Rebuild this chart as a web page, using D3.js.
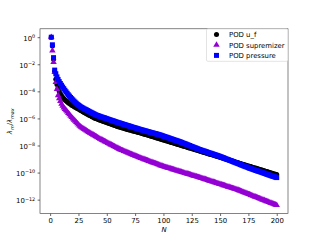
<!DOCTYPE html>
<meta charset="utf-8">
<style>
body { margin: 0; background: #fff; }
text { font-family: "DejaVu Sans", sans-serif; }
</style>
<body>
<script src="https://cdn.jsdelivr.net/npm/d3@7"></script>
<script>

// log10(lambda_m / lambda_max), one value per mode N = 1..200
var ufLog = [
  0, -0.65, -1.63, -2.51, -3.10, -3.50, -3.78, -4.00, -4.17, -4.31,
  -4.43, -4.53, -4.62, -4.70, -4.77, -4.84, -4.90, -4.96, -5.02, -5.07,
  -5.12, -5.17, -5.22, -5.26, -5.31, -5.36, -5.41, -5.46, -5.51, -5.56,
  -5.60, -5.65, -5.70, -5.74, -5.79, -5.83, -5.88, -5.92, -5.96, -6.00,
  -6.03, -6.07, -6.10, -6.13, -6.16, -6.19, -6.22, -6.25, -6.28, -6.31,
  -6.34, -6.37, -6.40, -6.43, -6.46, -6.49, -6.52, -6.55, -6.58, -6.61,
  -6.63, -6.66, -6.68, -6.71, -6.73, -6.76, -6.78, -6.81, -6.83, -6.85,
  -6.88, -6.90, -6.92, -6.95, -6.97, -6.99, -7.02, -7.04, -7.06, -7.08,
  -7.11, -7.13, -7.16, -7.18, -7.21, -7.23, -7.26, -7.28, -7.31, -7.34,
  -7.36, -7.39, -7.41, -7.44, -7.46, -7.49, -7.52, -7.54, -7.57, -7.59,
  -7.62, -7.64, -7.67, -7.69, -7.72, -7.75, -7.77, -7.80, -7.82, -7.85,
  -7.87, -7.90, -7.92, -7.95, -7.98, -8.00, -8.03, -8.05, -8.08, -8.10,
  -8.13, -8.16, -8.18, -8.21, -8.23, -8.26, -8.28, -8.31, -8.33, -8.36,
  -8.39, -8.41, -8.44, -8.46, -8.49, -8.51, -8.54, -8.57, -8.59, -8.62,
  -8.64, -8.67, -8.69, -8.72, -8.74, -8.77, -8.80, -8.82, -8.85, -8.87,
  -8.90, -8.92, -8.95, -8.98, -9.00, -9.03, -9.05, -9.08, -9.10, -9.13,
  -9.15, -9.18, -9.21, -9.23, -9.26, -9.28, -9.31, -9.33, -9.36, -9.38,
  -9.41, -9.44, -9.46, -9.49, -9.51, -9.54, -9.56, -9.59, -9.62, -9.64,
  -9.67, -9.69, -9.72, -9.74, -9.77, -9.79, -9.82, -9.85, -9.87, -9.90,
  -9.92, -9.95, -9.97, -10.00, -10.03, -10.05, -10.08, -10.10, -10.13, -10.15
];

var supLog = [
  0, -0.99, -1.84, -2.58, -3.32, -3.84, -4.29, -4.52, -4.72, -4.92,
  -5.08, -5.20, -5.31, -5.40, -5.50, -5.61, -5.71, -5.81, -5.91, -6.01,
  -6.10, -6.19, -6.28, -6.37, -6.46, -6.55, -6.62, -6.68, -6.74, -6.80,
  -6.85, -6.90, -6.96, -7.01, -7.06, -7.11, -7.16, -7.21, -7.26, -7.31,
  -7.36, -7.41, -7.46, -7.51, -7.55, -7.60, -7.64, -7.69, -7.73, -7.77,
  -7.82, -7.86, -7.91, -7.95, -7.99, -8.04, -8.08, -8.13, -8.17, -8.21,
  -8.26, -8.30, -8.34, -8.37, -8.41, -8.44, -8.48, -8.51, -8.55, -8.58,
  -8.62, -8.65, -8.69, -8.72, -8.76, -8.79, -8.83, -8.86, -8.90, -8.93,
  -8.96, -8.99, -9.02, -9.05, -9.08, -9.11, -9.15, -9.18, -9.21, -9.24,
  -9.27, -9.30, -9.33, -9.36, -9.39, -9.42, -9.46, -9.49, -9.52, -9.55,
  -9.58, -9.60, -9.63, -9.65, -9.68, -9.70, -9.73, -9.76, -9.78, -9.81,
  -9.83, -9.86, -9.88, -9.91, -9.93, -9.96, -9.99, -10.01, -10.04, -10.06,
  -10.09, -10.11, -10.14, -10.16, -10.19, -10.22, -10.24, -10.27, -10.29, -10.32,
  -10.34, -10.37, -10.40, -10.42, -10.45, -10.48, -10.50, -10.53, -10.56, -10.59,
  -10.61, -10.64, -10.67, -10.69, -10.72, -10.75, -10.78, -10.80, -10.83, -10.86,
  -10.88, -10.91, -10.94, -10.96, -10.99, -11.02, -11.05, -11.07, -11.10, -11.13,
  -11.15, -11.18, -11.21, -11.23, -11.26, -11.29, -11.33, -11.36, -11.39, -11.43,
  -11.46, -11.49, -11.52, -11.56, -11.59, -11.62, -11.66, -11.69, -11.72, -11.76,
  -11.79, -11.82, -11.85, -11.89, -11.92, -11.95, -11.99, -12.02, -12.05, -12.09,
  -12.12, -12.15, -12.18, -12.22, -12.25, -12.28, -12.32, -12.35, -12.38, -12.41
];

var presLog = [
  0, -0.56, -1.51, -2.43, -2.70, -2.93, -3.12, -3.28, -3.42, -3.55,
  -3.68, -3.80, -3.92, -4.03, -4.14, -4.25, -4.35, -4.45, -4.54, -4.63,
  -4.72, -4.80, -4.88, -4.96, -5.02, -5.08, -5.14, -5.19, -5.24, -5.29,
  -5.33, -5.37, -5.42, -5.46, -5.51, -5.55, -5.59, -5.64, -5.68, -5.73,
  -5.76, -5.79, -5.82, -5.85, -5.88, -5.91, -5.94, -5.96, -5.99, -6.02,
  -6.05, -6.08, -6.11, -6.14, -6.17, -6.19, -6.22, -6.25, -6.28, -6.31,
  -6.33, -6.36, -6.39, -6.41, -6.44, -6.46, -6.49, -6.52, -6.54, -6.57,
  -6.59, -6.62, -6.65, -6.67, -6.70, -6.72, -6.75, -6.78, -6.80, -6.83,
  -6.85, -6.87, -6.90, -6.92, -6.94, -6.97, -6.99, -7.01, -7.04, -7.06,
  -7.08, -7.11, -7.13, -7.15, -7.17, -7.20, -7.22, -7.25, -7.28, -7.31,
  -7.34, -7.37, -7.39, -7.42, -7.45, -7.48, -7.51, -7.54, -7.57, -7.60,
  -7.62, -7.65, -7.68, -7.71, -7.74, -7.77, -7.81, -7.84, -7.87, -7.90,
  -7.94, -7.97, -8.00, -8.04, -8.07, -8.10, -8.14, -8.17, -8.20, -8.24,
  -8.27, -8.30, -8.33, -8.36, -8.39, -8.41, -8.44, -8.47, -8.50, -8.53,
  -8.56, -8.58, -8.61, -8.64, -8.67, -8.70, -8.72, -8.75, -8.78, -8.81,
  -8.84, -8.88, -8.91, -8.94, -8.98, -9.01, -9.04, -9.08, -9.11, -9.14,
  -9.17, -9.21, -9.24, -9.27, -9.31, -9.34, -9.37, -9.41, -9.44, -9.47,
  -9.51, -9.54, -9.57, -9.60, -9.64, -9.67, -9.70, -9.73, -9.76, -9.79,
  -9.82, -9.85, -9.88, -9.90, -9.93, -9.96, -9.99, -10.02, -10.05, -10.08,
  -10.11, -10.14, -10.17, -10.20, -10.23, -10.26, -10.28, -10.31, -10.34, -10.37
];

var xTicks = [0, 25, 50, 75, 100, 125, 150, 175, 200];
var yTickExp = [0, -2, -4, -6, -8, -10, -12];
var seriesNames = ["POD u_f", "POD supremizer", "POD pressure"];
var seriesColors = ["#000000", "#9400d3", "#0000ff"];

var width = 320, height = 240;
var margin = {top: 28.8, right: 32, bottom: 26.4, left: 40};
var fs = 6.9;

var svg = d3.select("body").append("svg")
    .attr("width", width)
    .attr("height", height);

var series = [ufLog, supLog, presLog].map(function(arr) {
  return arr.map(function(e, i) { return {n: i + 1, v: Math.pow(10, e)}; });
});

// matplotlib style 5% margins (log space for y)
var nMax = ufLog.length;
var xPad = 0.05 * (nMax - 1);
var x = d3.scaleLinear()
    .domain([1 - xPad, nMax + xPad])
    .range([margin.left, width - margin.right]);

var allLog = ufLog.concat(supLog, presLog);
var lo = d3.min(allLog), hi = d3.max(allLog), yPad = 0.05 * (hi - lo);
var y = d3.scaleLog()
    .domain([Math.pow(10, lo - yPad), Math.pow(10, hi + yPad)])
    .range([height - margin.bottom, margin.top]);

// markers: u_f circles, supremizer triangles, pressure squares
var symbols = [
  d3.symbol().type(d3.symbolCircle).size(20),
  d3.symbol().type(d3.symbolTriangle).size(18),
  d3.symbol().type(d3.symbolSquare).size(25)
];

var plot = svg.append("g");
series.forEach(function(s, k) {
  plot.append("g")
    .selectAll("path")
    .data(s)
    .enter().append("path")
      .attr("transform", function(d) { return "translate(" + x(d.n) + "," + y(d.v) + ")"; })
      .attr("d", symbols[k])
      .attr("fill", seriesColors[k]);
});

// x axis
var xAxis = svg.append("g")
    .attr("transform", "translate(0," + (height - margin.bottom) + ")")
    .call(d3.axisBottom(x).tickValues(xTicks).tickSize(2.4).tickPadding(2.2).tickSizeOuter(0));
xAxis.select(".domain").remove();
xAxis.selectAll("text").attr("font-size", fs).attr("font-family", "DejaVu Sans").attr("fill", "#000");
xAxis.selectAll("line").attr("stroke", "#000").attr("stroke-width", 0.6);

// y axis
var yAxis = svg.append("g")
    .attr("transform", "translate(" + margin.left + ",0)")
    .call(d3.axisLeft(y).tickValues(yTickExp.map(function(e) { return Math.pow(10, e); }))
      .tickSize(2.4).tickPadding(2.4).tickSizeOuter(0));
yAxis.select(".domain").remove();
yAxis.selectAll("line").attr("stroke", "#000").attr("stroke-width", 0.6);
yAxis.selectAll("text").each(function(d) {
  var e = Math.round(Math.log10(d));
  var t = d3.select(this).text(null)
      .attr("font-size", fs).attr("font-family", "DejaVu Sans").attr("fill", "#000")
      .attr("dy", "0.46em");
  t.append("tspan").text("10");
  t.append("tspan").attr("dy", -2.8).attr("font-size", 4.9)
    .text(e < 0 ? "\u2212" + (-e) : String(e));
});

// frame
svg.append("rect")
    .attr("x", margin.left).attr("y", margin.top)
    .attr("width", width - margin.left - margin.right)
    .attr("height", height - margin.top - margin.bottom)
    .attr("fill", "none").attr("stroke", "#333").attr("stroke-width", 0.6);

// axis labels
svg.append("text")
    .attr("x", (margin.left + width - margin.right) / 2)
    .attr("y", 231.5)
    .attr("text-anchor", "middle")
    .attr("font-size", fs)
    .attr("font-style", "italic")
    .text("N");

var yl = svg.append("text")
    .attr("transform", "translate(12.3," + ((margin.top + height - margin.bottom) / 2) + ") rotate(-90)")
    .attr("text-anchor", "middle")
    .attr("font-size", fs);
yl.append("tspan").attr("font-style", "italic").text("\u03bb");
yl.append("tspan").attr("font-style", "italic").attr("font-size", 4.9).attr("dy", 1.5).text("m");
yl.append("tspan").attr("dy", -1.5).text("/");
yl.append("tspan").attr("font-style", "italic").text("\u03bb");
yl.append("tspan").attr("font-style", "italic").attr("font-size", 4.9).attr("dy", 1.5).text("max");

// legend
var lx = width - margin.right, ly = margin.top;
var legend = svg.append("g");
legend.append("rect")
    .attr("x", lx - 81.5).attr("y", ly)
    .attr("width", 81.5).attr("height", 32.5)
    .attr("rx", 1.5)
    .attr("fill", "#fff").attr("fill-opacity", 0.8)
    .attr("stroke", "#d0d0d0").attr("stroke-width", 0.6);
seriesNames.forEach(function(name, k) {
  var cy = ly + 5.8 + k * 10.4;
  legend.append("path")
    .attr("transform", "translate(" + (lx - 71.5) + "," + cy + ")")
    .attr("d", symbols[k])
    .attr("fill", seriesColors[k]);
  legend.append("text")
    .attr("x", lx - 59).attr("y", cy + 2.5)
    .attr("font-size", fs)
    .attr("fill", "#000")
    .text(name);
});

</script>
</body>
